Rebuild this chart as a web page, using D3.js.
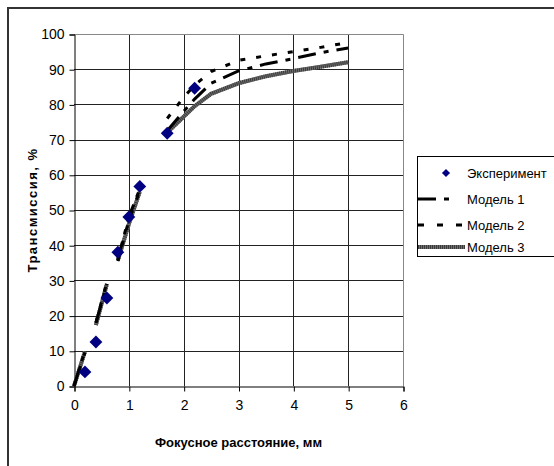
<!DOCTYPE html>
<html>
<head>
<meta charset="utf-8">
<script src="https://cdn.jsdelivr.net/npm/d3@7"></script>
<style>
  body { margin: 0; background: #fff; }
  text { font-family: "Liberation Sans", Arial, sans-serif; }
</style>
</head>
<body>
<div id="chart"></div>
<script>
// experiment points
const expX = [0.2, 0.4, 0.6, 0.8, 1.0, 1.2, 1.7, 2.2];
const expY = [4, 12.5, 25, 38, 48, 56.7, 71.8, 84.6];

// model curves (null = gap in the series)
const modelX = [0, 0.2, 0.3, 0.4, 0.6, 0.7, 0.8, 1.0, 1.2, 1.5, 1.7, 2.0, 2.2, 2.5, 3.0, 3.5, 4.0, 4.5, 5.0];
const model1 = [0, 10, null, 18, 29, null, 36, 48, 56, null, 72.5, 78, 81.5, 86, 89.5, 91.5, 93, 94.7, 96];
const model2 = [0, 9.5, null, 18, 29.5, null, 35.5, 47, 55.5, null, 76, 82, 85.5, 89.3, 92.5, 93.8, 95, 96.2, 97.6];
const model3 = [0, 9.8, null, 17.3, 29, null, 35.7, 46, 55.2, null, 72, 76.5, 79.5, 83, 86, 88, 89.5, 90.7, 92];

const xTicks = [0, 1, 2, 3, 4, 5, 6];
const yTicks = [0, 10, 20, 30, 40, 50, 60, 70, 80, 90, 100];
const seriesNames = ['Эксперимент', 'Модель 1', 'Модель 2', 'Модель 3'];

const fontName = '"Liberation Sans", Arial, sans-serif';
const W = 554, H = 466;
const svg = d3.select('#chart').append('svg')
    .attr('width', W)
    .attr('height', H);

svg.append('rect')
    .attr('x', 8).attr('y', 8)
    .attr('width', 600).attr('height', 500)
    .attr('fill', '#fff')
    .attr('stroke', '#333')
    .attr('stroke-width', 2);

const xScale = d3.scaleLinear().domain([0, 6]).range([74, 403]);
const yScale = d3.scaleLinear().domain([0, 100]).range([386, 34]);

// gridlines
svg.append('g').selectAll('line')
    .data(yTicks.filter(d => d > 0 && d < 100))
    .enter().append('line')
    .attr('x1', xScale(0)).attr('x2', xScale(6))
    .attr('y1', d => Math.round(yScale(d)) + 0.5)
    .attr('y2', d => Math.round(yScale(d)) + 0.5)
    .attr('stroke', '#222');

svg.append('g').selectAll('line')
    .data(xTicks.filter(d => d > 0 && d < 6))
    .enter().append('line')
    .attr('y1', yScale(0)).attr('y2', yScale(100))
    .attr('x1', d => Math.round(xScale(d)) + 0.5)
    .attr('x2', d => Math.round(xScale(d)) + 0.5)
    .attr('stroke', '#222');

// plot frame (top/right gray)
svg.append('path')
    .attr('d', `M${xScale(0)},${Math.round(yScale(100)) + 0.5}H${Math.round(xScale(6)) + 0.5}V${yScale(0)}`)
    .attr('fill', 'none')
    .attr('stroke', '#888');

// axes
const xAxis = d3.axisBottom(xScale).tickValues(xTicks).tickFormat(d3.format('d')).tickSize(5).tickPadding(9);
const gx = svg.append('g')
    .attr('transform', `translate(0.5,${Math.round(yScale(0)) + 0.5})`)
    .call(xAxis);
const yAxis = d3.axisLeft(yScale).tickValues(yTicks).tickFormat(d3.format('d')).tickSize(5).tickPadding(5);
const gy = svg.append('g')
    .attr('transform', `translate(${Math.round(xScale(0)) + 0.5},0.5)`)
    .call(yAxis);

[gx, gy].forEach(g => {
    g.select('.domain').attr('stroke', '#000');
    g.selectAll('.tick line').attr('stroke', '#000');
    g.selectAll('.tick text')
        .attr('font-size', 14)
        .attr('font-family', fontName)
        .attr('fill', '#000');
});

// axis titles
svg.append('text')
    .attr('x', (xScale(0) + xScale(6)) / 2)
    .attr('y', 447)
    .attr('text-anchor', 'middle')
    .attr('font-size', 13)
    .attr('font-weight', 'bold')
    .text('Фокусное расстояние, мм');

svg.append('text')
    .attr('transform', `translate(37,${(yScale(0) + yScale(100)) / 2}) rotate(-90)`)
    .attr('text-anchor', 'middle')
    .attr('font-size', 13)
    .attr('font-weight', 'bold')
    .attr('letter-spacing', 1.5)
    .text('Трансмиссия, %');

// model lines
const lineFor = ys => d3.line()
    .defined((d, i) => ys[i] !== null)
    .x(d => xScale(d))
    .y((d, i) => yScale(ys[i]))
    (modelX);

svg.append('path')
    .attr('d', lineFor(model3))
    .attr('fill', 'none')
    .attr('stroke', '#6e6e6e')
    .attr('stroke-width', 4);
svg.append('path')
    .attr('d', lineFor(model3))
    .attr('fill', 'none')
    .attr('stroke', '#3a3a3a')
    .attr('stroke-width', 4)
    .attr('stroke-dasharray', '1,1');

svg.append('path')
    .attr('d', lineFor(model1))
    .attr('fill', 'none')
    .attr('stroke', '#000')
    .attr('stroke-width', 3)
    .attr('stroke-dasharray', '18,8,5,8');

svg.append('path')
    .attr('d', lineFor(model2))
    .attr('fill', 'none')
    .attr('stroke', '#000')
    .attr('stroke-width', 3)
    .attr('stroke-dasharray', '5,11');

// experiment markers
const diamond = d3.symbol().type(d3.symbolDiamond2).size(105);
svg.append('g').selectAll('path')
    .data(expX)
    .enter().append('path')
    .attr('d', diamond)
    .attr('transform', (d, i) => `translate(${xScale(d)},${yScale(expY[i])})`)
    .attr('fill', '#000080');

// legend
const lg = svg.append('g');
lg.append('rect')
    .attr('x', 417.5).attr('y', 156.5)
    .attr('width', 200).attr('height', 100)
    .attr('fill', '#fff')
    .attr('stroke', '#000');

const legY = [173, 199, 225, 247];
lg.selectAll('text')
    .data(seriesNames)
    .enter().append('text')
    .attr('x', 467)
    .attr('y', (d, i) => legY[i])
    .attr('dy', '0.35em')
    .attr('font-size', 13)
    .text(d => d);

lg.append('path')
    .attr('d', d3.symbol().type(d3.symbolDiamond2).size(42))
    .attr('transform', `translate(446,${legY[0]})`)
    .attr('fill', '#000080');

lg.append('path')
    .attr('d', `M418,${legY[1]}H465`)
    .attr('stroke', '#000').attr('stroke-width', 3)
    .attr('stroke-dasharray', '18,8,5,30');
lg.append('path')
    .attr('d', `M418,${legY[2]}H465`)
    .attr('stroke', '#000').attr('stroke-width', 3)
    .attr('stroke-dasharray', '6,13');
lg.append('path')
    .attr('d', `M418,${legY[3]}H465`)
    .attr('stroke', '#6e6e6e').attr('stroke-width', 4);
lg.append('path')
    .attr('d', `M418,${legY[3]}H465`)
    .attr('stroke', '#3a3a3a').attr('stroke-width', 4)
    .attr('stroke-dasharray', '1,1');
</script>
</body>
</html>
